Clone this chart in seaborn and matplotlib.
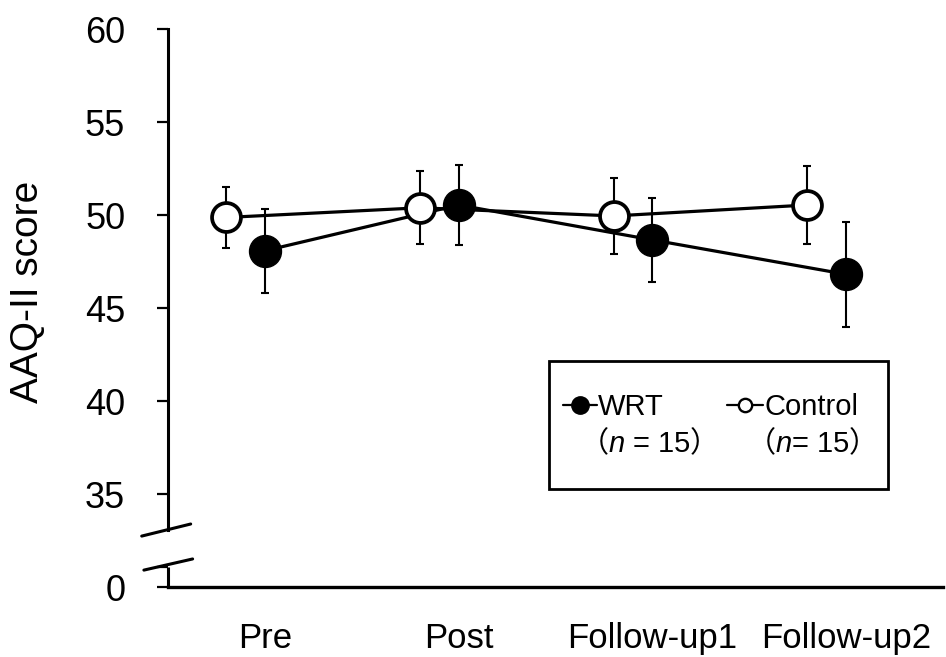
import matplotlib
matplotlib.use("Agg")
import matplotlib.pyplot as plt
import matplotlib.transforms as mtransforms
from matplotlib.lines import Line2D
from matplotlib.patches import Rectangle
import numpy as np
import pandas as pd
import seaborn as sns

# Group means and error-bar half widths per measurement occasion
phases = ["Pre", "Post", "Follow-up1", "Follow-up2"]
wrt_mean = [48.09, 50.55, 48.67, 46.82]
wrt_err = [2.27, 2.15, 2.24, 2.84]
control_mean = [49.88, 50.40, 49.96, 50.55]
control_err = [1.64, 1.97, 2.04, 2.10]
n_wrt = 15
n_control = 15
y_ticks = [35, 40, 45, 50, 55, 60]

sns.set_theme(style="white")
plt.rcParams["font.family"] = ["Liberation Sans", "Noto Sans CJK JP"]
plt.rcParams["mathtext.fontset"] = "custom"
plt.rcParams["mathtext.it"] = "Liberation Sans:italic"
plt.rcParams["mathtext.rm"] = "Noto Sans CJK JP"
for key in ["text.color", "axes.labelcolor", "xtick.color", "ytick.color"]:
    plt.rcParams[key] = "black"

# broken axis: the value 0 is shown at this position below the break
ZERO_POS = 30.0
CONTROL_SHIFT = -0.2

idx = np.arange(len(phases))
df = pd.concat([
    pd.DataFrame({"group": "WRT", "x": idx, "mean": wrt_mean, "err": wrt_err}),
    pd.DataFrame({"group": "Control", "x": idx + CONTROL_SHIFT,
                  "mean": control_mean, "err": control_err}),
], ignore_index=True)

fig = plt.figure(figsize=(9.46, 6.57), dpi=100)
ax = fig.add_axes([0.1779, 0.1065, 0.8189, 0.8489])

# connecting lines
sns.lineplot(data=df, x="x", y="mean", hue="group",
             palette={"WRT": "black", "Control": "black"},
             estimator=None, sort=False, lw=2.3, legend=False, ax=ax, zorder=2)

# error bars
for g, sub in df.groupby("group"):
    ax.errorbar(sub["x"], sub["mean"], yerr=sub["err"], fmt="none",
                ecolor="black", elinewidth=1.5, capsize=2.8, capthick=1.5,
                zorder=3)

# markers on top
wrt = df[df.group == "WRT"]
ctl = df[df.group == "Control"]
sns.scatterplot(data=wrt, x="x", y="mean", s=23.0 ** 2, color="black",
                edgecolor="black", linewidth=1.0, ax=ax, zorder=4, legend=False)
sns.scatterplot(data=ctl, x="x", y="mean", s=20.8 ** 2, color="white",
                edgecolor="black", linewidth=2.7, ax=ax, zorder=4, legend=False)

ax.set_xlim(-0.5, 3.5)
ax.set_ylim(ZERO_POS, 60)
ax.set_xticks(idx)
ax.set_xticklabels(phases)
ax.set_yticks([ZERO_POS] + y_ticks)
ax.set_yticklabels(["0"] + [str(v) for v in y_ticks])
ax.set_yticks([31.08], minor=True)
ax.set_xlabel("")
ax.set_ylabel("AAQ-II score", fontsize=28, va="center")
ax.yaxis.set_label_coords(-0.181, 0.529)

ax.tick_params(axis="y", which="both", direction="out", left=True,
               length=8, width=1.6, pad=23, labelsize=26)
ax.tick_params(axis="y", which="minor", length=8)
ax.tick_params(axis="x", length=0, pad=25, labelsize=25)

for side in ["top", "right"]:
    ax.spines[side].set_visible(False)
ax.spines["bottom"].set_linewidth(2.4)
ax.spines["bottom"].set_color("black")
ax.spines["left"].set_linewidth(2.2)
ax.spines["left"].set_color("black")
ax.spines["left"].set_bounds(33.07, 60)

# lower piece of the y axis and the break marks
blend = mtransforms.blended_transform_factory(ax.transAxes, ax.transData)
ax.plot([0, 0], [ZERO_POS, 31.08], transform=blend, color="black", lw=2.2,
        clip_on=False, solid_capstyle="butt", zorder=5)
ax.plot([-0.0343, 0.0289], [32.74, 33.39], transform=blend, color="black",
        lw=2.2, clip_on=False, zorder=5)
ax.plot([-0.0315, 0.0314], [30.91, 31.51], transform=blend, color="black",
        lw=2.2, clip_on=False, zorder=5)

# legend box: key line with marker, group name, and sample size below
bx, by, bw, bh = 0.4914, 0.1757, 0.4376, 0.2295
ax.add_patch(Rectangle((bx, by), bw, bh, transform=ax.transAxes,
                       facecolor="white", edgecolor="black", lw=2.0, zorder=6))

key_y = 0.3264
name_y = 0.3084
n_y = 0.2426
legend_items = [
    # (key start, key end, name x, n-line x, label, n, face, size, edge width)
    (0.5095, 0.5534, 0.5548, 0.5307, "WRT", r"$\mathrm{（}n$ = %d$\mathrm{）}$" % n_wrt,
     "black", 12.5, 1.0),
    (0.7212, 0.7677, 0.7702, 0.7463, "Control", r"$\mathrm{（}n$= %d$\mathrm{）}$" % n_control,
     "white", 9.6, 1.7),
]
for x0, x1, tx, nx, name, ntext, face, ms, mew in legend_items:
    ax.add_line(Line2D([x0, x1], [key_y, key_y], transform=ax.transAxes,
                       color="black", lw=1.6, zorder=7))
    ax.add_line(Line2D([(x0 + x1) / 2], [key_y], transform=ax.transAxes,
                       marker="o", ms=ms, mfc=face, mec="black", mew=mew,
                       linestyle="none", zorder=8))
    ax.text(tx, name_y, name, transform=ax.transAxes, fontsize=21,
            ha="left", va="baseline", zorder=8)
    ax.text(nx, n_y, ntext, transform=ax.transAxes, fontsize=21,
            ha="left", va="baseline", zorder=8)

fig.savefig("out.png", dpi=100, facecolor="white")
